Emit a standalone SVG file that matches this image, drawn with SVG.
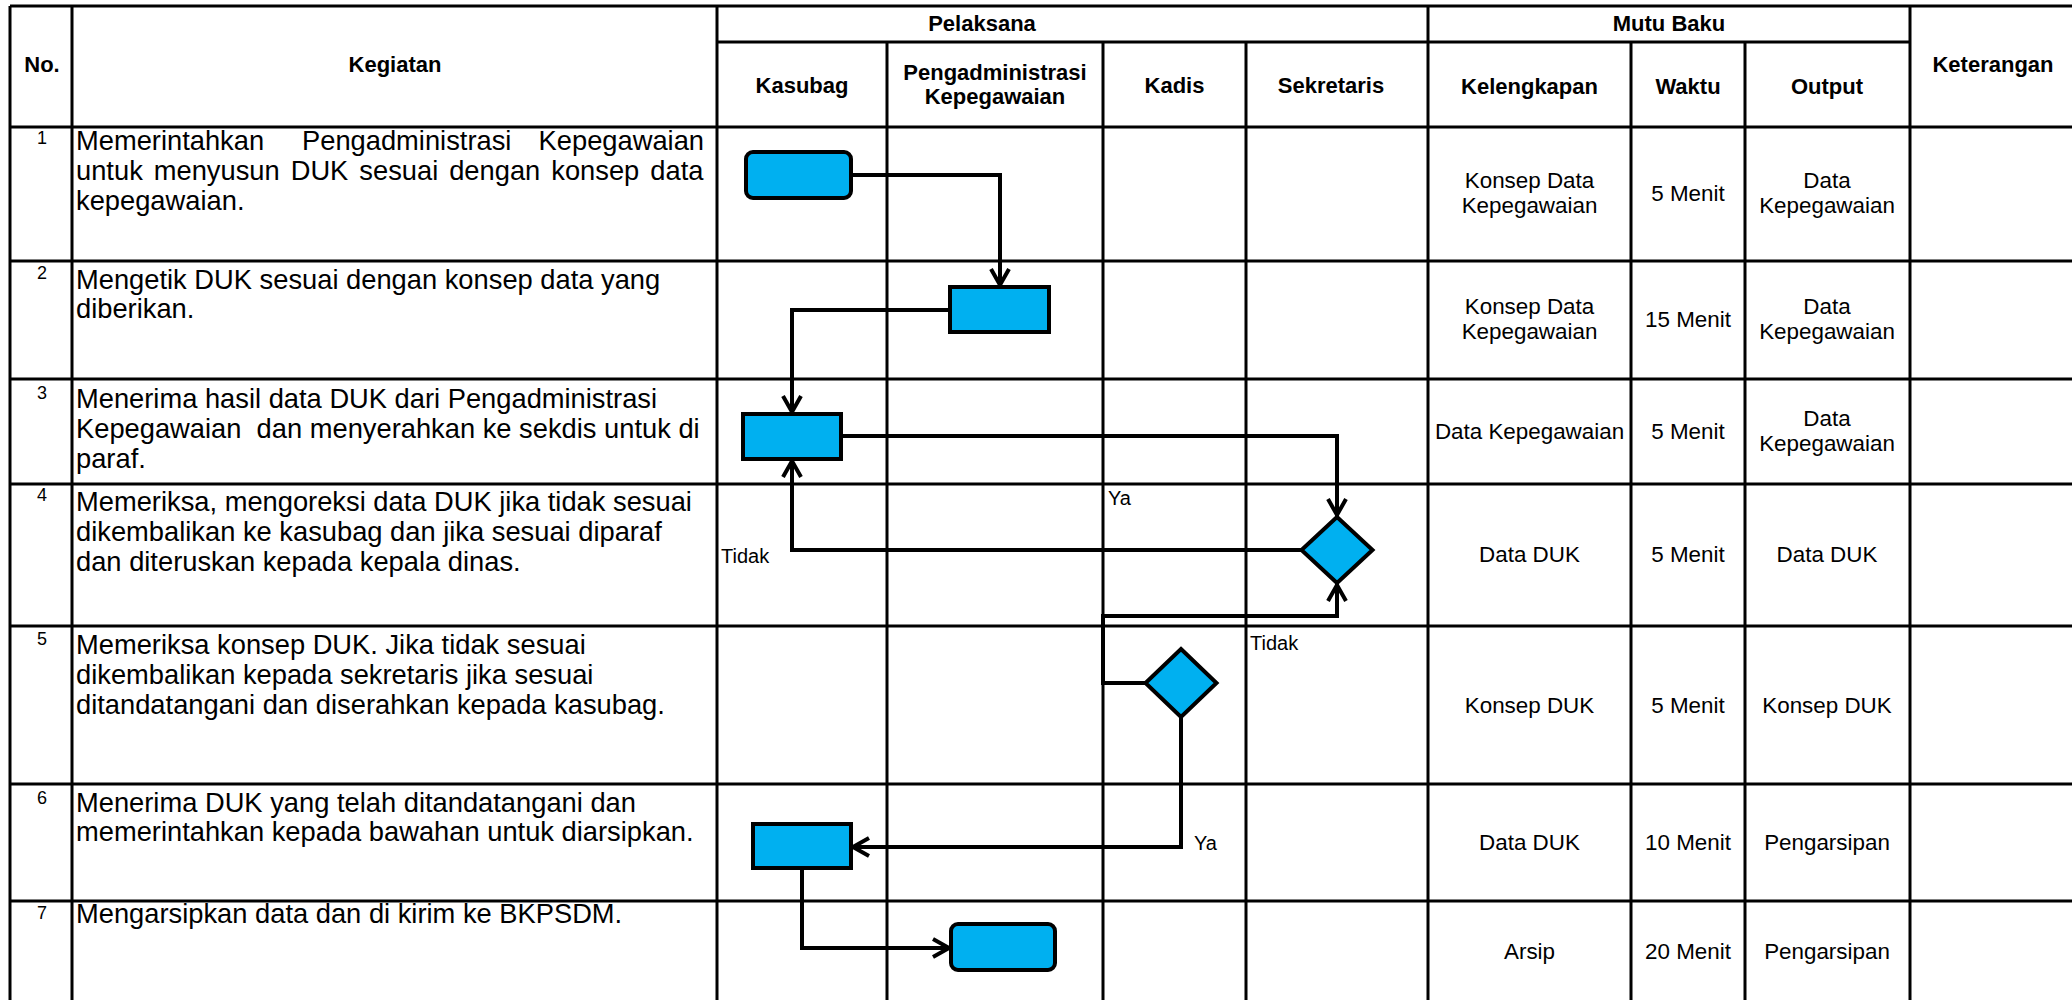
<svg xmlns="http://www.w3.org/2000/svg" width="2072" height="1000" viewBox="0 0 2072 1000">
<defs>
<style>
.g{stroke:#000;stroke-width:3;fill:none}
text{font-family:"Liberation Sans",Arial,sans-serif;fill:#000}
.h{font-weight:bold;font-size:22px;text-anchor:middle}
.k{font-size:27.3px;white-space:pre}
.n{font-size:18px;text-anchor:middle}
.d{font-size:22.4px;text-anchor:middle}
.l{font-size:20px}
.s{fill:#00B0F0;stroke:#000;stroke-width:4}
.c{fill:none;stroke:#000;stroke-width:4;stroke-linejoin:miter;marker-end:url(#a)}
</style>
<marker id="a" markerUnits="userSpaceOnUse" viewBox="-20 -12 26 24" markerWidth="26" markerHeight="24" refX="2" refY="0" orient="auto" overflow="visible">
<path d="M-16,-9 L0,0 L-16,9" fill="none" stroke="#000" stroke-width="4"/>
</marker>
</defs>
<rect width="2072" height="1000" fill="#fff"/>
<g id="grid" class="g">
<path d="M10,6H2072 M717,42H1910 M10,127H2072 M10,261H2072 M10,379H2072 M10,484H2072 M10,626H2072 M10,784H2072 M10,901H2072"/>
<path d="M10,6V1000 M72,6V1000 M717,6V1000 M887,42V1000 M1103,42V1000 M1246,42V1000 M1428,6V1000 M1631,42V1000 M1745,42V1000 M1910,6V1000"/>
</g>
<g id="header">
<text class="h" x="42" y="72">No.</text>
<text class="h" x="395" y="72">Kegiatan</text>
<text class="h" x="982" y="31">Pelaksana</text>
<text class="h" x="1669" y="31">Mutu Baku</text>
<text class="h" x="802" y="93">Kasubag</text>
<text class="h" x="995" y="80">Pengadministrasi</text>
<text class="h" x="995" y="104">Kepegawaian</text>
<text class="h" x="1174.5" y="93">Kadis</text>
<text class="h" x="1331" y="93">Sekretaris</text>
<text class="h" x="1529.5" y="94">Kelengkapan</text>
<text class="h" x="1688" y="94">Waktu</text>
<text class="h" x="1827" y="94">Output</text>
<text class="h" x="1993" y="72">Keterangan</text>
</g>
<g id="numbers">
<text class="n" x="42" y="144">1</text>
<text class="n" x="42" y="279">2</text>
<text class="n" x="42" y="399">3</text>
<text class="n" x="42" y="501">4</text>
<text class="n" x="42" y="645">5</text>
<text class="n" x="42" y="804">6</text>
<text class="n" x="42" y="919">7</text>
</g>
<g id="kegiatan">
<text class="k" x="76" y="150">Memerintahkan</text>
<text class="k" x="302" y="150">Pengadministrasi</text>
<text class="k" x="704" y="150" text-anchor="end">Kepegawaian</text>
<text class="k" x="76" y="180" word-spacing="3.4">untuk menyusun DUK sesuai dengan konsep data</text>
<text class="k" x="76" y="210">kepegawaian.</text>
<text class="k" x="76" y="289">Mengetik DUK sesuai dengan konsep data yang</text>
<text class="k" x="76" y="318">diberikan.</text>
<text class="k" x="76" y="408">Menerima hasil data DUK dari Pengadministrasi</text>
<text class="k" x="76" y="438">Kepegawaian  dan menyerahkan ke sekdis untuk di</text>
<text class="k" x="76" y="468">paraf.</text>
<text class="k" x="76" y="511">Memeriksa, mengoreksi data DUK jika tidak sesuai</text>
<text class="k" x="76" y="541">dikembalikan ke kasubag dan jika sesuai diparaf</text>
<text class="k" x="76" y="571">dan diteruskan kepada kepala dinas.</text>
<text class="k" x="76" y="654">Memeriksa konsep DUK. Jika tidak sesuai</text>
<text class="k" x="76" y="684">dikembalikan kepada sekretaris jika sesuai</text>
<text class="k" x="76" y="714">ditandatangani dan diserahkan kepada kasubag.</text>
<text class="k" x="76" y="812">Menerima DUK yang telah ditandatangani dan</text>
<text class="k" x="76" y="841">memerintahkan kepada bawahan untuk diarsipkan.</text>
<text class="k" x="76" y="923">Mengarsipkan data dan di kirim ke BKPSDM.</text>
</g>
<g id="mutu">
<text class="d" x="1529.5" y="188">Konsep Data</text>
<text class="d" x="1529.5" y="213">Kepegawaian</text>
<text class="d" x="1688" y="201">5 Menit</text>
<text class="d" x="1827" y="188">Data</text>
<text class="d" x="1827" y="213">Kepegawaian</text>
<text class="d" x="1529.5" y="314">Konsep Data</text>
<text class="d" x="1529.5" y="339">Kepegawaian</text>
<text class="d" x="1688" y="327">15 Menit</text>
<text class="d" x="1827" y="314">Data</text>
<text class="d" x="1827" y="339">Kepegawaian</text>
<text class="d" x="1529.5" y="439">Data Kepegawaian</text>
<text class="d" x="1688" y="439">5 Menit</text>
<text class="d" x="1827" y="426">Data</text>
<text class="d" x="1827" y="451">Kepegawaian</text>
<text class="d" x="1529.5" y="562">Data DUK</text>
<text class="d" x="1688" y="562">5 Menit</text>
<text class="d" x="1827" y="562">Data DUK</text>
<text class="d" x="1529.5" y="713">Konsep DUK</text>
<text class="d" x="1688" y="713">5 Menit</text>
<text class="d" x="1827" y="713">Konsep DUK</text>
<text class="d" x="1529.5" y="850">Data DUK</text>
<text class="d" x="1688" y="850">10 Menit</text>
<text class="d" x="1827" y="850">Pengarsipan</text>
<text class="d" x="1529.5" y="959">Arsip</text>
<text class="d" x="1688" y="959">20 Menit</text>
<text class="d" x="1827" y="959">Pengarsipan</text>
</g>
<g id="connectors">
<path class="c" d="M851,175 H1000 V287"/>
<path class="c" d="M950,310 H792 V414"/>
<path class="c" d="M841,436 H1337 V517"/>
<path class="c" d="M1301.5,550 H792 V459"/>
<path class="c" d="M1145.5,683 H1103 V616 H1337 V583"/>
<path class="c" d="M1181,717 V847 H851"/>
<path class="c" d="M802,868 V948 H951"/>
</g>
<g id="labels">
<text class="l" x="721" y="563">Tidak</text>
<text class="l" x="1108" y="505">Ya</text>
<text class="l" x="1250" y="650">Tidak</text>
<text class="l" x="1194" y="850">Ya</text>
</g>
<g id="n1"><rect class="s" x="746" y="152" width="105" height="46" rx="7"/></g>
<g id="n2"><rect class="s" x="950" y="287" width="99" height="45"/></g>
<g id="n3"><rect class="s" x="743" y="414" width="98" height="45"/></g>
<g id="n4"><polygon class="s" points="1337,517 1372.5,550 1337,583 1301.5,550"/></g>
<g id="n5"><polygon class="s" points="1181,649 1216.5,683 1181,717 1145.5,683"/></g>
<g id="n6"><rect class="s" x="753" y="824" width="98" height="44"/></g>
<g id="n7"><rect class="s" x="951" y="924" width="104" height="46" rx="7"/></g>
</svg>
